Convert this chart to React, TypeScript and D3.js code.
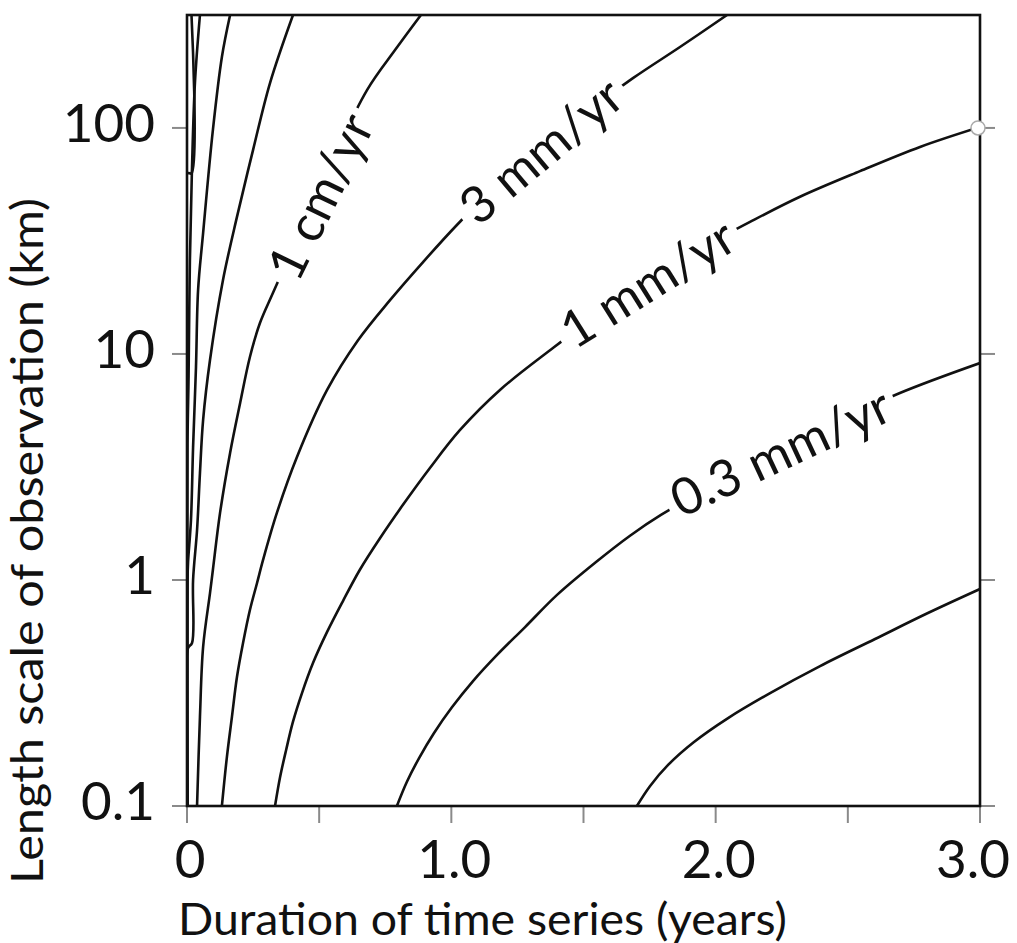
import * as d3 from "d3";

// axis ticks
const xTicks = [0, 0.5, 1, 1.5, 2, 2.5, 3];
const xTickLabels = ["0", "", "1.0", "", "2.0", "", "3.0"];
const yTicks = [0.1, 1, 10, 100];
const yTickLabels = ["0.1", "1", "10", "100"];

// contour lines as [years, km]
const rate01mm = [[1.702, 0.1], [1.752, 0.1226], [1.82, 0.152], [1.918, 0.192], [2.047, 0.245], [2.206, 0.316], [2.395, 0.416], [2.603, 0.548], [2.803, 0.714], [3.0, 0.912]];
const rate03mm = [[0.794, 0.1], [0.832, 0.128], [0.878, 0.163], [0.934, 0.21], [1.003, 0.274], [1.082, 0.357], [1.173, 0.466], [1.279, 0.619], [1.4, 0.859], [1.551, 1.21], [1.676, 1.57], [1.793, 1.94], [2.016, 2.72], [2.243, 3.73], [2.47, 5.06], [2.697, 6.72], [3.0, 9.12]];
const rate1mm = [[0.333, 0.1], [0.352, 0.134], [0.375, 0.177], [0.401, 0.236], [0.435, 0.316], [0.477, 0.43], [0.53, 0.589], [0.59, 0.807], [0.654, 1.11], [0.73, 1.53], [0.817, 2.15], [0.919, 3.13], [1.033, 4.61], [1.184, 6.93], [1.388, 10.7], [1.562, 15.2], [1.752, 21.5], [1.941, 29.2], [2.13, 38.4], [2.319, 49.6], [2.546, 64.4], [2.773, 82.4], [3.0, 101]];
const rate3mm = [[0.132, 0.1], [0.151, 0.165], [0.17, 0.248], [0.189, 0.372], [0.212, 0.526], [0.238, 0.736], [0.265, 0.97], [0.288, 1.23], [0.34, 1.98], [0.416, 3.5], [0.53, 6.93], [0.647, 11.5], [0.768, 17.3], [0.893, 25.5], [1.021, 37.2], [1.222, 63.8], [1.449, 104], [1.687, 166], [1.865, 228], [2.043, 316]];
const rate1cm = [[0.038, 0.1], [0.049, 0.248], [0.061, 0.506], [0.087, 0.875], [0.098, 1.11], [0.125, 1.98], [0.163, 3.65], [0.201, 6.07], [0.238, 9.7], [0.276, 13.7], [0.325, 18.6], [0.428, 34.7], [0.541, 68.5], [0.681, 147], [0.787, 221], [0.885, 316]];
const rate3cm = [[0.002, 0.1], [0.004, 0.5], [0.019, 0.526], [0.023, 1.0], [0.038, 1.66], [0.049, 2.97], [0.061, 5.11], [0.087, 9.4], [0.136, 21.2], [0.189, 40.4], [0.25, 80], [0.314, 158], [0.401, 316]];
const rate10cm = [[0.002, 0.1], [0.002, 1.0], [0.004, 1.2], [0.015, 1.84], [0.023, 3.87], [0.034, 8.75], [0.042, 19.2], [0.061, 34.3], [0.098, 98], [0.132, 206], [0.163, 316]];
const rate30cm = [[0.002, 0.1], [0.002, 4], [0.006, 8], [0.011, 26], [0.019, 67], [0.03, 158], [0.049, 316]];
const rate1m = [[0.002, 0.1], [0.002, 63], [0.017, 63], [0.017, 316]];

const contourLines = [rate01mm, rate03mm, rate1mm, rate3mm, rate1cm, rate3cm, rate10cm, rate30cm, rate1m];

// labels sit on their line: text, years, km, angle
const labelText = ["1 cm/yr", "3 mm/yr", "1 mm/yr", "0.3 mm/yr"];
const labelX = [0.5, 1.336, 1.74, 2.243];
const labelY = [50, 80, 20.8, 3.73];
const labelAngle = [-64, -40, -32, -25];

const marker = [3.0, 100];

const W = 1017;
const H = 943;
const font = "Lato, 'Open Sans', sans-serif";
const labelSize = 51;

// rough text width so the contour can be broken under each label
const measure = (s: string, size: number) => {
  const ctx = document.createElement("canvas").getContext("2d");
  if (!ctx) return s.length * size * 0.5;
  ctx.font = `${size}px Lato`;
  return ctx.measureText(s).width;
};

export default function App() {
  const x = d3.scaleLinear().domain([0, 3]).range([187, 980]);
  const y = d3.scaleLog().domain([0.1, 316]).range([806, 15]);

  const line = d3
    .line<number[]>()
    .x((d) => x(d[0]))
    .y((d) => y(d[1]))
    .curve(d3.curveCatmullRom.alpha(0.5));

  const [x0, x1] = x.range();
  const [yb, yt] = y.range();

  return (
    <svg
      width={W}
      height={H}
      style={{ position: "absolute", left: 0, top: 0, background: "#fff" }}
      fontFamily={font}
    >
      <defs>
        <clipPath id="plot">
          <rect x={x0} y={yt} width={x1 - x0} height={yb - yt} />
        </clipPath>
      </defs>

      {/* ticks */}
      {xTicks.map((t, i) => (
        <line key={"xt" + i} x1={x(t)} x2={x(t)} y1={yb} y2={yb + 17} stroke="#8a8a8a" strokeWidth={2} />
      ))}
      {yTicks.map((t, i) => (
        <g key={"yt" + i}>
          <line x1={x0 - 15} x2={x0} y1={y(t)} y2={y(t)} stroke="#8a8a8a" strokeWidth={2} />
          <line x1={x1} x2={x1 + 15} y1={y(t)} y2={y(t)} stroke="#8a8a8a" strokeWidth={2} />
        </g>
      ))}

      {/* contours */}
      <g clipPath="url(#plot)">
        {contourLines.map((pts, i) => (
          <path key={"c" + i} d={line(pts) || ""} fill="none" stroke="#111" strokeWidth={2.6} />
        ))}
      </g>

      {/* frame */}
      <rect x={x0} y={yt} width={x1 - x0} height={yb - yt} fill="none" stroke="#111" strokeWidth={2.6} />

      <circle cx={x(marker[0]) - 2} cy={y(marker[1])} r={7} fill="#fff" stroke="#aaa" strokeWidth={1.5} />

      {/* contour labels */}
      {labelText.map((t, i) => {
        const w = measure(t, labelSize) + 14;
        return (
          <g key={"l" + i} transform={`translate(${x(labelX[i])},${y(labelY[i])}) rotate(${labelAngle[i]})`}>
            <rect x={-w / 2} y={-13} width={w} height={26} fill="#fff" />
            <text
              textAnchor="middle"
              dominantBaseline="central"
              fontSize={labelSize}
              fill="#111"
              stroke="#fff"
              strokeWidth={16}
              strokeLinejoin="round"
              paintOrder="stroke"
            >
              {t}
            </text>
          </g>
        );
      })}

      {/* tick labels */}
      {xTicks.map((t, i) =>
        xTickLabels[i] ? (
          <text key={"xl" + i} x={Math.min(x(t) + 3, 973)} y={878} textAnchor="middle" fontSize={53} fill="#111">
            {xTickLabels[i]}
          </text>
        ) : null
      )}
      {yTicks.map((t, i) => (
        <text key={"yl" + i} x={155} y={y(t) + 14} textAnchor="end" fontSize={53} fill="#111">
          {yTickLabels[i]}
        </text>
      ))}

      {/* axis titles */}
      <text x={178} y={935} fontSize={44.5} fill="#111" textLength={609} lengthAdjust="spacingAndGlyphs">
        Duration of time series (years)
      </text>
      <text
        transform="translate(43,541) rotate(-90)"
        textAnchor="middle"
        fontSize={44.5}
        fill="#111"
        textLength={686}
        lengthAdjust="spacingAndGlyphs"
      >
        Length scale of observation (km)
      </text>
    </svg>
  );
}
